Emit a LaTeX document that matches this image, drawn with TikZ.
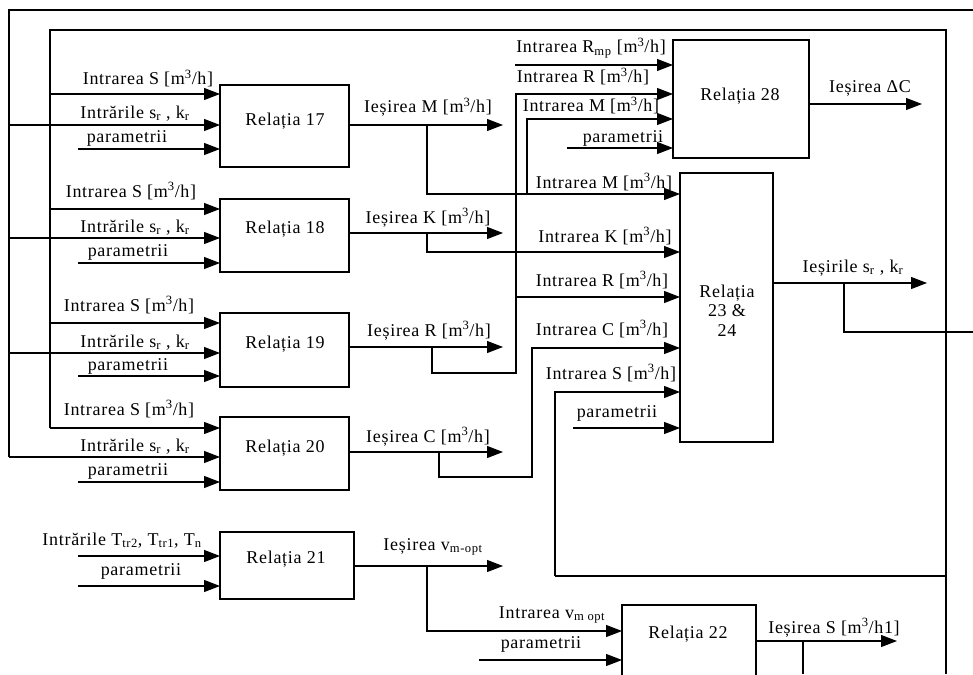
\documentclass[tikz,border=0pt]{standalone}
\usepackage{fontspec}
\setmainfont{Liberation Serif}[LetterSpace=4]
\usetikzlibrary{arrows.meta}
\newcommand{\mch}{[m\textsuperscript{3}/h]}
\newcommand{\srkr}{s\textsubscript{r} , k\textsubscript{r}}
\begin{document}
\begin{tikzpicture}[x=1pt,y=-1pt,line width=1.1pt,
  every node/.style={font=\fontsize{18}{21}\selectfont,inner sep=0pt,outer sep=0pt},
  blk/.style={draw,rectangle,anchor=north west},
  lbl/.style={anchor=base},
  arr/.style={-{Triangle[length=16pt,width=12pt]}}]
\useasboundingbox (0,0) rectangle (973,674);
\clip (0,0) rectangle (973,674);
% boxes
\node[blk,minimum width=129pt,minimum height=82pt] (b17) at (220,85) {};
\node[blk,minimum width=129pt,minimum height=73pt] (b18) at (220,199) {};
\node[blk,minimum width=129pt,minimum height=74pt] (b19) at (220,313) {};
\node[blk,minimum width=129pt,minimum height=73pt] (b20) at (220,417) {};
\node[blk,minimum width=134pt,minimum height=67pt] (b21) at (220,532) {};
\node[blk,minimum width=134pt,minimum height=90pt] (b22) at (622,605) {};
\node[blk,minimum width=136pt,minimum height=118pt] (b28) at (673,40) {};
\node[blk,minimum width=93pt,minimum height=269pt] (b2324) at (680,173) {};
% box texts
\node[lbl] (t17) at (285,125) {Relația 17};
\node[lbl] (t18) at (285,233) {Relația 18};
\node[lbl] (t19) at (285,348) {Relația 19};
\node[lbl] (t20) at (285,452) {Relația 20};
\node[lbl] (t21) at (286,563) {Relația 21};
\node[lbl] (t22) at (688,638) {Relația 22};
\node[lbl] (t28) at (740,100) {Relația 28};
\node[lbl] (t23a) at (727,297) {Relația};
\node[lbl] (t23b) at (727,316) {23 \&};
\node[lbl] (t23c) at (727,336) {24};
% coordinates
\coordinate (oTR) at (973,10);
\coordinate (oTL) at (9,10);
\coordinate (oBL) at (9,457);
\coordinate (iTR) at (946,30);
\coordinate (iTL) at (50,30);
\coordinate (iBL) at (50,428);
\coordinate (iBR) at (946,674);
% outer loop (s_r, k_r)
\draw (oTR) -- (oTL) -- (oBL);
\draw[arr] (oBL) -- (b20.west |- 0,457);
\draw[arr] (9,125) -- (b17.west |- 0,125);
\draw[arr] (9,238) -- (b18.west |- 0,238);
\draw[arr] (9,353) -- (b19.west |- 0,353);
% inner loop (S)
\draw (iBR) -- (iTR) -- (iTL) -- (iBL);
\draw[arr] (iBL) -- (b20.west |- 0,428);
\draw[arr] (50,94) -- (b17.west |- 0,94);
\draw[arr] (50,209) -- (b18.west |- 0,209);
\draw[arr] (50,323) -- (b19.west |- 0,323);
% parameters
\draw[arr] (78,149) -- (b17.west |- 0,149);
\draw[arr] (78,263) -- (b18.west |- 0,263);
\draw[arr] (78,376) -- (b19.west |- 0,376);
\draw[arr] (78,482) -- (b20.west |- 0,482);
\draw[arr] (78,556) -- (b21.west |- 0,556);
\draw[arr] (78,586) -- (b21.west |- 0,586);
\draw[arr] (479,660) -- (b22.west |- 0,660);
\draw[arr] (567,148) -- (b28.west |- 0,148);
\draw[arr] (573,428) -- (b2324.west |- 0,428);
\draw[arr] (515,65) -- (b28.west |- 0,65);
% outputs
\coordinate (eM) at (503,125);
\coordinate (eK) at (503,233);
\coordinate (eR) at (503,347);
\coordinate (eC) at (503,452);
\coordinate (eV) at (503,566);
\coordinate (eS) at (897,641);
\coordinate (eDC) at (922,104);
\coordinate (eSK) at (927,283);
\draw[arr] (b17.east |- 0,125) -- (eM);
\draw[arr] (b18.east |- 0,233) -- (eK);
\draw[arr] (b19.east |- 0,347) -- (eR);
\draw[arr] (b20.east |- 0,452) -- (eC);
\draw[arr] (b21.east |- 0,566) -- (eV);
\draw[arr] (b22.east |- 0,641) -- (eS);
\draw[arr] (b28.east |- 0,104) -- (eDC);
\draw[arr] (b2324.east |- 0,283) -- (eSK);
% branches
\draw[arr] (427,125) |- (b2324.west |- 0,194);
\draw[arr] (527,194) |- (b28.west |- 0,119);
\draw[arr] (427,233) |- (b2324.west |- 0,252);
\draw[arr] (432,347) -- (432,373) -- (516,373) |- (b28.west |- 0,94);
\draw[arr] (516,297) -- (b2324.west |- 0,297);
\draw[arr] (439,452) -- (439,477) -- (532,477) |- (b2324.west |- 0,348);
\draw[arr] (427,566) |- (b22.west |- 0,631);
\draw (803,641) -- (803,674);
\draw (844,283) -- (844,332) -- (973,332);
\draw[arr] (555,576) -- (555,392) -- (b2324.west |- 0,392);
\draw (555,576) -- (946,576);
% input labels
\node[lbl] (l17a) at (148,85) {Intrarea S \mch};
\node[lbl] (l17b) at (135,118) {Intrările \srkr};
\node[lbl] (l17c) at (127,142) {parametrii};
\node[lbl] (l18a) at (131,197) {Intrarea S \mch};
\node[lbl] (l18b) at (135,232) {Intrările \srkr};
\node[lbl] (l18c) at (128,256) {parametrii};
\node[lbl] (l19a) at (129,311) {Intrarea S \mch};
\node[lbl] (l19b) at (135,347) {Intrările \srkr};
\node[lbl] (l19c) at (128,370) {parametrii};
\node[lbl] (l20a) at (129,415) {Intrarea S \mch};
\node[lbl] (l20b) at (135,451) {Intrările \srkr};
\node[lbl] (l20c) at (128,475) {parametrii};
\node[lbl] (l21a) at (122,545) {Intrările T\textsubscript{tr2}, T\textsubscript{tr1}, T\textsubscript{n}};
\node[lbl] (l21b) at (141,575) {parametrii};
\node[lbl] (l22a) at (552,618) {Intrarea v\textsubscript{m opt}};
\node[lbl] (l22b) at (541,648) {parametrii};
\node[lbl] (l28a) at (591,53) {Intrarea R\textsubscript{mp} \mch};
\node[lbl] (l28b) at (583,83) {Intrarea R \mch};
\node[lbl] (l28c) at (591,112) {Intrarea M \mch};
\node[lbl] (l28d) at (623,142) {parametrii};
\node[lbl] (l24a) at (604,188) {Intrarea M \mch};
\node[lbl] (l24b) at (605,242) {Intrarea K \mch};
\node[lbl] (l24c) at (602,286) {Intrarea R \mch};
\node[lbl] (l24d) at (602,335) {Intrarea C \mch};
\node[lbl] (l24e) at (611,379) {Intrarea S \mch};
\node[lbl] (l24f) at (617,417) {parametrii};
% output labels
\node[lbl] (oM) at (428,113) {Ieșirea M \mch};
\node[lbl] (oK) at (428,223) {Ieșirea K \mch};
\node[lbl] (oR) at (429,336) {Ieșirea R \mch};
\node[lbl] (oC) at (428,442) {Ieșirea C \mch};
\node[lbl] (oV) at (433,550) {Ieșirea v\textsubscript{m-opt}};
\node[lbl] (oS) at (834,633) {Ieșirea S [m\textsuperscript{3}/h1]};
\node[lbl] (oDC) at (870,93) {Ieșirea ΔC};
\node[lbl] (oSK) at (853,272) {Ieșirile \srkr};
\end{tikzpicture}
\end{document}
